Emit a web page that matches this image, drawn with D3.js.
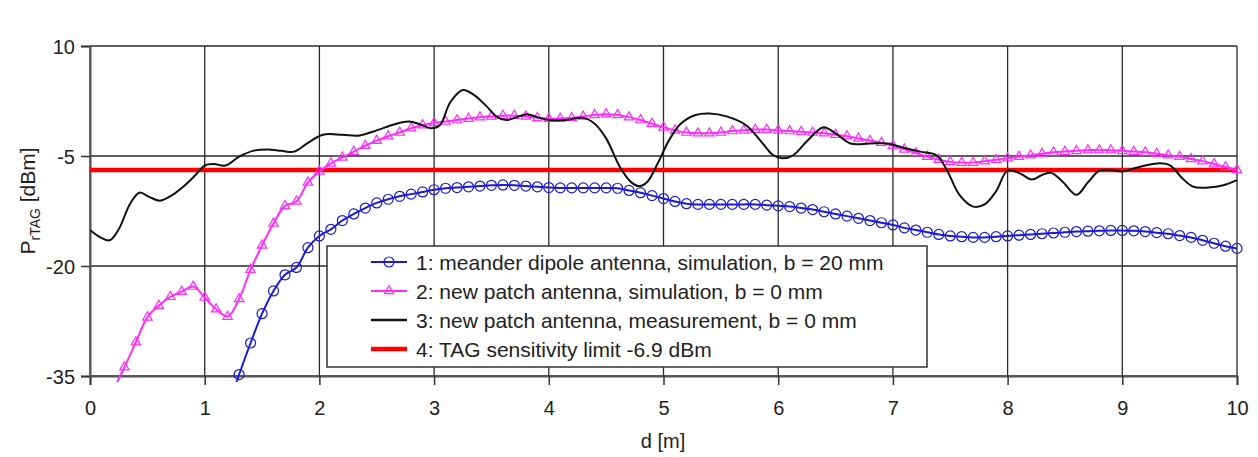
<!DOCTYPE html>
<html><head><meta charset="utf-8">
<script src="https://cdn.jsdelivr.net/npm/d3@7/dist/d3.min.js"></script>
<style>body{margin:0;background:#fff}svg{display:block;font-family:"Liberation Sans",Arial,sans-serif}</style>
</head><body><svg id="c" width="1258" height="457"></svg>
<script>
const xTicks = [0,1,2,3,4,5,6,7,8,9,10];
const yTicks = [-35,-20,-5,10];
const legendLabels = [
  "1: meander dipole antenna, simulation, b = 20 mm",
  "2: new patch antenna, simulation, b = 0 mm",
  "3: new patch antenna, measurement, b = 0 mm",
  "4: TAG sensitivity limit -6.9 dBm"
];
const sensitivity = -6.9;

// series 1: meander dipole (blue, circles)
const blueD = [1.2,1.3,1.4,1.5,1.6,1.7,1.8,1.9,2.0,2.1,2.2,2.3,2.4,2.5,2.6,2.7,2.8,2.9,3.0,
  3.1,3.2,3.3,3.4,3.5,3.6,3.7,3.8,3.9,4.0,4.1,4.2,4.3,4.4,4.5,4.6,4.7,4.8,4.9,5.0,
  5.1,5.2,5.3,5.4,5.5,5.6,5.7,5.8,5.9,6.0,6.1,6.2,6.3,6.4,6.5,6.6,6.7,6.8,6.9,7.0,
  7.1,7.2,7.3,7.4,7.5,7.6,7.7,7.8,7.9,8.0,8.1,8.2,8.3,8.4,8.5,8.6,8.7,8.8,8.9,9.0,
  9.1,9.2,9.3,9.4,9.5,9.6,9.7,9.8,9.9,10.0];
const blueP = [-39.5,-34.8,-30.5,-26.5,-23.4,-21.2,-20.2,-17.5,-15.9,-15.0,-13.8,-12.9,-12.1,-11.4,-10.9,-10.5,-10.2,-9.9,-9.6,
  -9.4,-9.3,-9.2,-9.1,-9.0,-8.95,-9.0,-9.1,-9.2,-9.3,-9.35,-9.35,-9.35,-9.35,-9.35,-9.4,-9.7,-10.0,-10.4,-10.8,
  -11.2,-11.5,-11.6,-11.6,-11.6,-11.6,-11.6,-11.6,-11.7,-11.8,-11.9,-12.1,-12.3,-12.6,-12.9,-13.2,-13.5,-13.8,-14.1,-14.4,
  -14.8,-15.1,-15.4,-15.7,-15.9,-16.0,-16.1,-16.1,-16.0,-15.9,-15.8,-15.7,-15.6,-15.5,-15.4,-15.3,-15.25,-15.2,-15.15,-15.15,
  -15.2,-15.3,-15.45,-15.6,-15.85,-16.1,-16.5,-16.9,-17.3,-17.6];

// series 2: new patch, simulation (magenta, triangles)
const pinkD = [0.2,0.3,0.4,0.5,0.6,0.7,0.8,0.9,1.0,1.1,1.2,1.3,1.4,1.5,1.6,1.7,1.8,1.9,2.0,
  2.1,2.2,2.3,2.4,2.5,2.6,2.7,2.8,2.9,3.0,3.1,3.2,3.3,3.4,3.5,3.6,3.7,3.8,3.9,4.0,
  4.1,4.2,4.3,4.4,4.5,4.6,4.7,4.8,4.9,5.0,5.1,5.2,5.3,5.4,5.5,5.6,5.7,5.8,5.9,6.0,
  6.1,6.2,6.3,6.4,6.5,6.6,6.7,6.8,6.9,7.0,7.1,7.2,7.3,7.4,7.5,7.6,7.7,7.8,7.9,8.0,
  8.1,8.2,8.3,8.4,8.5,8.6,8.7,8.8,8.9,9.0,9.1,9.2,9.3,9.4,9.5,9.6,9.7,9.8,9.9,10.0];
const pinkP = [-37.0,-33.8,-30.4,-27.0,-25.4,-24.2,-23.5,-22.8,-24.3,-25.9,-26.9,-24.5,-20.5,-17.2,-14.2,-11.8,-11.2,-8.6,-7.1,
  -6.0,-5.2,-4.4,-3.6,-2.9,-2.3,-1.8,-1.2,-0.8,-0.5,-0.3,-0.1,0.1,0.3,0.4,0.5,0.5,0.4,0.2,0.1,
  0.1,0.2,0.4,0.6,0.7,0.6,0.3,-0.1,-0.6,-1.1,-1.5,-1.8,-1.9,-1.9,-1.8,-1.6,-1.5,-1.4,-1.4,-1.5,
  -1.6,-1.7,-1.8,-1.9,-2.1,-2.3,-2.6,-2.9,-3.2,-3.6,-4.1,-4.6,-5.1,-5.5,-5.8,-5.9,-5.9,-5.7,-5.5,-5.3,
  -5.1,-4.9,-4.7,-4.5,-4.4,-4.3,-4.2,-4.2,-4.2,-4.3,-4.4,-4.5,-4.7,-4.9,-5.1,-5.4,-5.7,-6.1,-6.5,-6.9];

// series 3: new patch, measurement (black)
const blackD = [0.0,0.08,0.17,0.25,0.35,0.43,0.52,0.61,0.72,0.82,0.92,1.0,1.08,1.18,1.3,1.42,1.55,1.67,1.78,1.9,
  2.03,2.2,2.35,2.5,2.65,2.78,2.88,2.97,3.05,3.14,3.25,3.35,3.45,3.55,3.63,3.72,3.81,3.9,4.0,4.15,
  4.3,4.4,4.5,4.62,4.72,4.79,4.86,4.95,5.05,5.15,5.28,5.4,5.55,5.72,5.85,5.95,6.03,6.13,6.25,6.39,
  6.5,6.63,6.8,6.95,7.1,7.24,7.38,7.47,7.58,7.7,7.8,7.9,8.0,8.11,8.21,8.3,8.38,8.48,8.6,8.7,
  8.8,8.9,9.0,9.1,9.2,9.33,9.42,9.52,9.62,9.75,9.88,10.0];
const blackP = [-15.1,-16.0,-16.5,-15.0,-11.5,-10.0,-10.6,-11.1,-10.3,-9.1,-7.6,-6.3,-6.1,-6.3,-5.1,-4.3,-4.1,-4.3,-4.4,-3.2,
  -2.1,-2.1,-2.2,-1.5,-0.7,-0.3,-0.7,-1.2,-0.8,2.3,4.0,3.3,1.9,0.3,-0.1,0.3,0.7,0.3,-0.1,-0.1,
  0.2,-0.6,-2.6,-6.5,-8.6,-9.1,-8.5,-6.0,-2.8,-0.6,0.6,0.8,0.4,-0.8,-3.0,-4.8,-5.3,-4.9,-3.0,-1.1,
  -1.9,-3.3,-3.3,-3.3,-3.9,-4.4,-4.9,-6.9,-10.3,-11.9,-11.6,-9.8,-7.0,-7.4,-8.2,-7.6,-7.3,-8.5,-10.3,-8.6,
  -7.0,-6.9,-7.1,-6.7,-6.3,-6.0,-6.3,-8.0,-9.2,-9.3,-9.0,-8.3];

const svg = d3.select("#c");
const L = 90, R = 1237, T = 46, B = 376;
const x = d3.scaleLinear().domain([0,10]).range([L,R]);
const y = d3.scaleLinear().domain([-35,10]).range([B,T]);

const cBlue = "#1a1ad6", cPink = "#ff2bff", cBlack = "#111", cRed = "#ff0000", cGrid = "#2a2a2a";

svg.append("rect").attr("width",1258).attr("height",457).attr("fill","#fff");

// grid
const g = svg.append("g");
g.selectAll(".vg").data(xTicks).join("line")
  .attr("x1",d=>x(d)).attr("x2",d=>x(d)).attr("y1",T).attr("y2",B)
  .attr("stroke",cGrid).attr("stroke-width",1.3);
g.selectAll(".hg").data(yTicks).join("line")
  .attr("x1",L).attr("x2",R).attr("y1",d=>y(d)).attr("y2",d=>y(d))
  .attr("stroke",cGrid).attr("stroke-width",1.3);

// axes
const fmt = d => String(d);
const xAxis = d3.axisBottom(x).tickValues(xTicks).tickSize(9).tickPadding(16).tickFormat(fmt);
const yAxis = d3.axisLeft(y).tickValues(yTicks).tickSize(9).tickPadding(6).tickFormat(fmt);
const gx = svg.append("g").attr("transform",`translate(0,${B})`).call(xAxis);
const gy = svg.append("g").attr("transform",`translate(${L},0)`).call(yAxis);
[gx,gy].forEach(a=>{
  a.select(".domain").attr("stroke","#555").attr("stroke-width",2);
  a.selectAll(".tick line").attr("stroke","#333").attr("stroke-width",1.5);
  a.selectAll(".tick text").attr("fill","#222").style("font-size","20px")
   .style("font-family",'"Liberation Sans",Arial,sans-serif');
});
gy.selectAll(".tick text").attr("dy","0.36em");

// clip
svg.append("defs").append("clipPath").attr("id","clip")
  .append("rect").attr("x",L).attr("y",T-10).attr("width",R-L+10).attr("height",B-T+16);
const plot = svg.append("g").attr("clip-path","url(#clip)");

// red sensitivity line
plot.append("line").attr("x1",x(0)).attr("x2",x(10))
  .attr("y1",y(sensitivity)).attr("y2",y(sensitivity))
  .attr("stroke",cRed).attr("stroke-width",4.5);

const line = d3.line().x(d=>x(d[0])).y(d=>y(d[1])).curve(d3.curveCatmullRom);

const blue = blueD.map((d,i)=>[d,blueP[i]]);
const pink = pinkD.map((d,i)=>[d,pinkP[i]]);
const black = blackD.map((d,i)=>[d,blackP[i]]);

plot.append("path").attr("d",line(blue)).attr("fill","none").attr("stroke",cBlue).attr("stroke-width",2);
plot.selectAll(".bc").data(blue).join("circle")
  .attr("cx",d=>x(d[0])).attr("cy",d=>y(d[1])).attr("r",5)
  .attr("fill","none").attr("stroke",cBlue).attr("stroke-width",1.2);

plot.append("path").attr("d",line(pink)).attr("fill","none").attr("stroke",cPink).attr("stroke-width",2);
const tri = d3.symbol().type(d3.symbolTriangle).size(38);
plot.selectAll(".pt").data(pink).join("path")
  .attr("transform",d=>`translate(${x(d[0])},${y(d[1])})`).attr("d",tri)
  .attr("fill","none").attr("stroke",cPink).attr("stroke-width",1.2);

plot.append("path").attr("d",line(black)).attr("fill","none").attr("stroke",cBlack).attr("stroke-width",2);

// legend
const lg = svg.append("g");
lg.append("rect").attr("x",327).attr("y",246).attr("width",600).attr("height",121)
  .attr("fill","#fff").attr("stroke","#333").attr("stroke-width",1.5);
const rows = [262,291,320,349];
const styles = [
  {c:cBlue,w:2,m:"circle"},{c:cPink,w:2,m:"tri"},{c:cBlack,w:2.5,m:null},{c:cRed,w:4.5,m:null}
];
legendLabels.forEach((t,i)=>{
  const ry = rows[i], s = styles[i];
  lg.append("line").attr("x1",371).attr("x2",407).attr("y1",ry).attr("y2",ry)
    .attr("stroke",s.c).attr("stroke-width",s.w);
  if(s.m==="circle") lg.append("circle").attr("cx",389).attr("cy",ry).attr("r",5)
    .attr("fill","none").attr("stroke",s.c).attr("stroke-width",1.2);
  if(s.m==="tri") lg.append("path").attr("transform",`translate(389,${ry})`).attr("d",tri)
    .attr("fill","none").attr("stroke",s.c).attr("stroke-width",1.2);
  lg.append("text").attr("x",416).attr("y",ry).attr("dy","0.36em")
    .attr("fill","#222").style("font-size","21px").text(t);
});

// axis titles
svg.append("text").attr("x",663).attr("y",448).attr("text-anchor","middle")
  .attr("fill","#222").style("font-size","20px").text("d [m]");
const yl = svg.append("text").attr("transform","translate(35,201) rotate(-90)")
  .attr("text-anchor","middle").attr("fill","#222").style("font-size","21px");
yl.append("tspan").text("P");
yl.append("tspan").attr("dy","5").style("font-size","14px").text("rTAG");
yl.append("tspan").attr("dy","-5").text(" [dBm]");
</script>
</body></html>
